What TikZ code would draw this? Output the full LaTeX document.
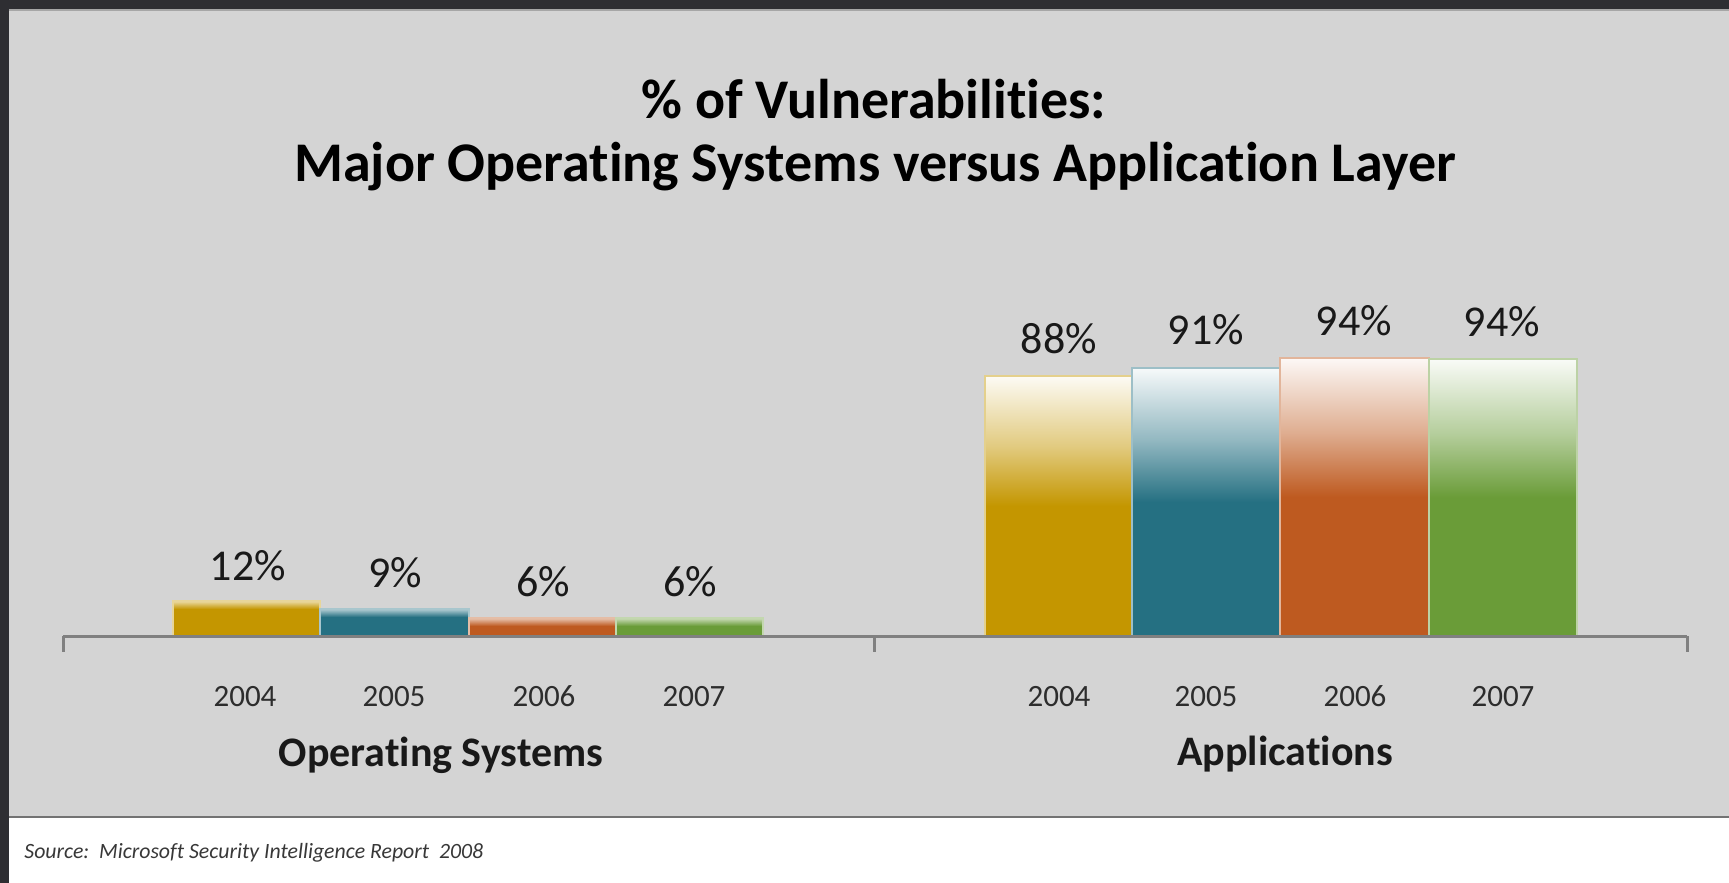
\documentclass[tikz,border=0pt]{standalone}
\usepackage{fontspec}
\setmainfont{Carlito}[Ligatures=NoCommon]
\definecolor{cgold}{RGB}{196,150,0}
\definecolor{cteal}{RGB}{37,112,130}
\definecolor{corange}{RGB}{190,90,32}
\definecolor{cgreen}{RGB}{106,156,56}
\definecolor{panel}{RGB}{212,212,212}
\definecolor{framecol}{RGB}{46,46,50}
\definecolor{axisgray}{RGB}{128,128,128}
\definecolor{yeartext}{RGB}{45,45,45}
\begin{document}
\begin{tikzpicture}[x=0.5pt,y=-0.5pt,
  titlestyle/.style={font=\fontsize{28}{32}\selectfont\bfseries, text=black, inner sep=0pt},
  pctlabel/.style={font=\fontsize{22}{24}\selectfont, text=black!90, inner sep=0pt, anchor=base},
  yearlabel/.style={font=\fontsize{15.5}{18}\selectfont, text=yeartext, inner sep=0pt, anchor=base},
  catlabel/.style={font=\fontsize{21}{24}\selectfont\bfseries, text=black!90, inner sep=0pt},
  axisline/.style={draw=axisgray, line width=1.5pt},
  sourcestyle/.style={font=\fontsize{10.9}{12}\selectfont\itshape, text=black!78, inner sep=0pt, anchor=west}]
\useasboundingbox (0,0) rectangle (1729,883);
% background and frame
\fill[white] (0,0) rectangle (1729,883);
\fill[panel] (9,9) rectangle (1729,817);
\fill[framecol] (0,0) rectangle (1729,9);
\fill[framecol] (0,0) rectangle (9,883);
\draw[black!55, line width=1pt] (9,817) -- (1729,817);
\draw[black!35, line width=0.8pt] (9,10) -- (1729,10);
% title
\node[titlestyle] (t1) at (874,99) {\% of Vulnerabilities:};
\node[titlestyle] (t2) at (875,167) {Major Operating Systems versus Application Layer};
% Application bars (gradient)
\foreach \xa/\xb/\yt/\c in {985/1132/376/cgold, 1132/1280/368/cteal, 1280/1429/358/corange, 1429/1577/359/cgreen}{
  \pgfmathsetmacro\ym{\yt+0.27*(636-\yt)}
  \pgfmathsetmacro\yn{\yt+0.50*(636-\yt)}
  \shade[top color=\c!4!white, bottom color=\c!50!white] (\xa,\yt) rectangle (\xb,\ym);
  \shade[top color=\c!50!white, bottom color=\c] (\xa,\ym) rectangle (\xb,\yn);
  \fill[\c] (\xa,\yn) rectangle (\xb,636);
  \draw[\c!45!white, line width=0.6pt] (\xa,636) -- (\xa,\yt) -- (\xb,\yt) -- (\xb,636);
}
% Operating system bars
\foreach \xa/\xb/\yt/\c in {173/320/601/cgold, 320/469/609/cteal, 469/616/618/corange, 616/763/618/cgreen}{
  \pgfmathsetmacro\ym{\yt+8}
  \shade[top color=\c!35!white, bottom color=\c] (\xa,\yt) rectangle (\xb,\ym);
  \fill[\c] (\xa,\ym) rectangle (\xb,636);
  \draw[\c!40!white, line width=0.6pt] (\xa,636) -- (\xa,\yt) -- (\xb,\yt) -- (\xb,636);
}
% axis
\coordinate (axL) at (63,636);
\coordinate (axM) at (874,636);
\coordinate (axR) at (1687,636);
\coordinate (tkL) at (63,652);
\coordinate (tkM) at (874,652);
\coordinate (tkR) at (1687,652);
\draw[axisline] (axL) -- (axR);
\draw[axisline] (axL) -- (tkL);
\draw[axisline] (axM) -- (tkM);
\draw[axisline] (axR) -- (tkR);
% percentage labels
\node[pctlabel] (p1) at (248,580) {12\%};
\node[pctlabel] (p2) at (395,587) {9\%};
\node[pctlabel] (p3) at (543,596) {6\%};
\node[pctlabel] (p4) at (690,596) {6\%};
\node[pctlabel] (p5) at (1059,353) {88\%};
\node[pctlabel] (p6) at (1206,344) {91\%};
\node[pctlabel] (p7) at (1354,335) {94\%};
\node[pctlabel] (p8) at (1502,336) {94\%};
% year labels
\node[yearlabel] (y1) at (245,706) {2004};
\node[yearlabel] (y2) at (394,706) {2005};
\node[yearlabel] (y3) at (544,706) {2006};
\node[yearlabel] (y4) at (694,706) {2007};
\node[yearlabel] (y5) at (1059,706) {2004};
\node[yearlabel] (y6) at (1206,706) {2005};
\node[yearlabel] (y7) at (1355,706) {2006};
\node[yearlabel] (y8) at (1503,706) {2007};
% category labels
\node[catlabel] (c1) at (441,755) {Operating Systems};
\node[catlabel] (c2) at (1285,754) {Applications};
% source
\node[sourcestyle] (src) at (24,853) {Source:\ \ Microsoft Security Intelligence Report\ \ 2008};
\end{tikzpicture}
\end{document}
